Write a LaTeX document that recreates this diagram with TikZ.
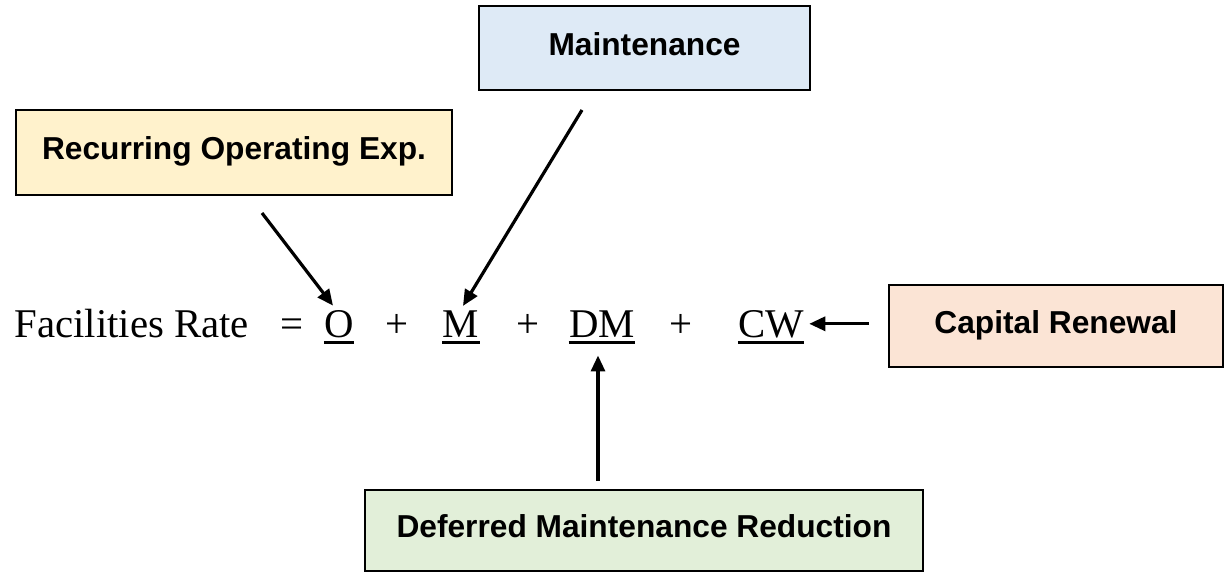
\documentclass[tikz,border=0pt]{standalone}
\usepackage{fontspec}
\setmainfont{Liberation Serif}
\newfontfamily\arialfont{Liberation Sans}
\usetikzlibrary{arrows.meta}
\definecolor{mblue}{HTML}{DEEAF6}
\definecolor{ryellow}{HTML}{FFF2CC}
\definecolor{cpeach}{HTML}{FBE4D5}
\definecolor{dgreen}{HTML}{E2EFD9}
\tikzset{
  labelbox/.style={draw=black, line width=1.35pt, inner sep=0pt, anchor=center,
    font=\arialfont\bfseries\fontsize{15.85}{19}\selectfont,
    text height=0.716em, text depth=0pt},
  eqtext/.style={inner sep=0pt, anchor=base, font=\fontsize{20.4}{25}\selectfont},
  uline/.style={line width=1.3pt},
  arr/.style={line width=1.6pt, -{Triangle[length=8pt,width=7pt]}}
}
\begin{document}
\begin{tikzpicture}[x=0.5pt,y=-0.5pt]
\useasboundingbox (0,0) rectangle (1225,573);
% boxes
\node[labelbox, fill=mblue, minimum width=165.5pt, minimum height=42pt] (mt) at (644.5,48) {Maintenance};
\node[labelbox, fill=ryellow, minimum width=218pt, minimum height=42.5pt] (rec) at (234,152.5) {Recurring Operating Exp.};
\node[labelbox, fill=cpeach, minimum width=167pt, minimum height=41pt] (cr) at (1056,326) {Capital Renewal};
\node[labelbox, fill=dgreen, minimum width=279pt, minimum height=40.5pt] (dmr) at (644,530.5) {Deferred Maintenance Reduction};
% equation
\node[eqtext, anchor=base west] (fr) at (14,337) {Facilities Rate};
\node[eqtext] (eq) at (292,337) {=};
\node[eqtext] (O) at (339,337) {O};
\node[eqtext] (p1) at (397,337) {+};
\node[eqtext] (M) at (461,337) {M};
\node[eqtext] (p2) at (528,337) {+};
\node[eqtext] (DM) at (602,337) {DM};
\node[eqtext] (p3) at (681,337) {+};
\node[eqtext] (CW) at (771,337) {CW};
% underlines
\foreach \t in {O,M,DM,CW}{
  \draw[uline] ([yshift=-2.6pt]\t.base west) -- ([yshift=-2.6pt]\t.base east);
}
% arrows
\coordinate (oS) at (262,213);
\coordinate (mS) at (582,110);
\coordinate (dmS) at (598,481);
\coordinate (dmT) at ([yshift=-9pt]DM.south);
\draw[arr] (oS) -- ([xshift=-3pt,yshift=2pt]O.north);
\draw[arr] (mS) -- ([xshift=1pt,yshift=2pt]M.north);
\draw[arr] (dmS) -- (dmS |- dmT);
\draw[arr] ([xshift=-9.5pt]cr.west |- CW.east) -- ([xshift=2.5pt]CW.east);
\end{tikzpicture}
\end{document}
